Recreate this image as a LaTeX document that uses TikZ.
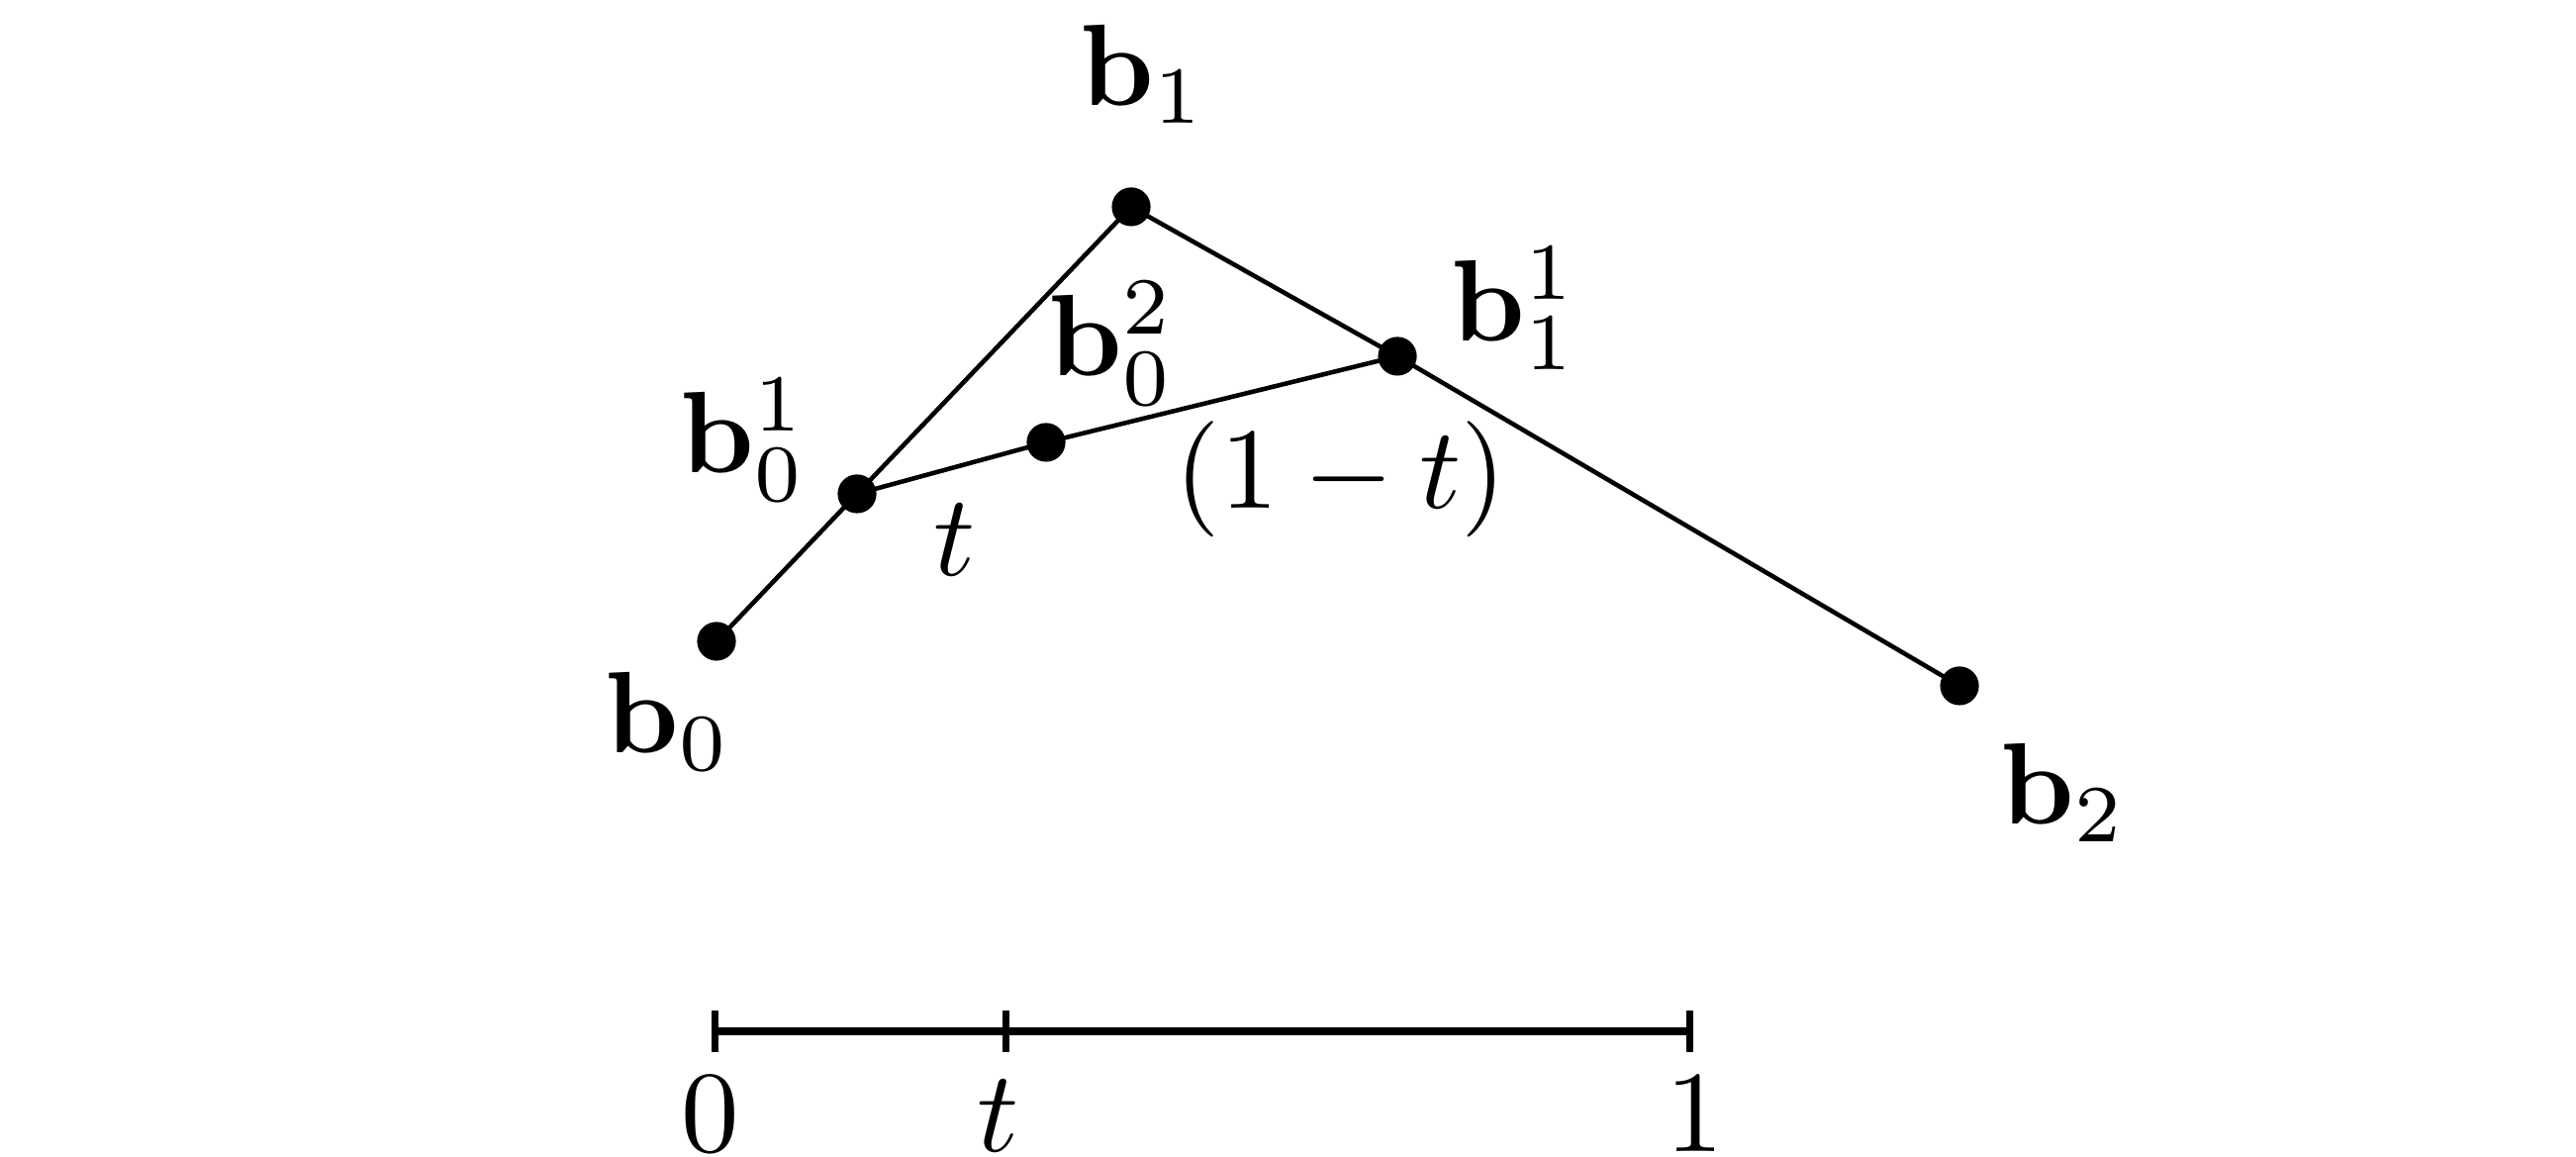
\documentclass[tikz,border=0pt]{standalone}
\usepackage{amsmath}
\begin{document}
\begin{tikzpicture}[x=0.08547pt, y=-0.08547pt,
  dot/.style={circle, fill=black, inner sep=0pt, minimum size=3.35pt},
  lbl/.style={inner sep=0pt, anchor=base west},
  clbl/.style={inner sep=0pt, anchor=base},
  seg/.style={line width=0.39pt},
  scale line/.style={line width=0.7pt},
  tick/.style={line width=0.6pt}]
  \useasboundingbox (0,0) rectangle (2603,1169);
  % control points
  \node[dot] (b0)  at (724,648)  {};
  \node[dot] (b01) at (866,499)  {};
  \node[dot] (b1)  at (1143,209) {};
  \node[dot] (b02) at (1057,447) {};
  \node[dot] (b11) at (1412,360) {};
  \node[dot] (b2)  at (1980,693) {};
  % connectors
  \draw[seg] (b0.center) -- (b01.center);
  \draw[seg] (b01.center) -- (b1.center);
  \draw[seg] (b1.center) -- (b11.center);
  \draw[seg] (b11.center) -- (b2.center);
  \draw[seg] (b01.center) -- (b02.center);
  \draw[seg] (b02.center) -- (b11.center);
  % labels
  \node[lbl] (l0)  at (609,761)  {$\mathbf{b}_0$};
  \node[lbl] (l01) at (685,478)  {$\mathbf{b}_0^1$};
  \node[lbl] (l1)  at (1089,107) {$\mathbf{b}_1$};
  \node[lbl] (l02) at (1057,380) {$\mathbf{b}_0^2$};
  \node[lbl] (l11) at (1464,345) {$\mathbf{b}_1^1$};
  \node[lbl] (l2)  at (2019,833) {$\mathbf{b}_2$};
  \node[clbl] (lt)  at (965,582)  {$t$};
  \node[clbl] (l1t) at (1355,514) {$(1-t)$};
  % parameter scale
  \coordinate (s0) at (722,1042);
  \coordinate (st) at (1016,1042);
  \coordinate (s1) at (1707,1042);
  \draw[scale line] (s0) -- (s1);
  \draw[tick] ([yshift=1.8pt]s0) -- ([yshift=-1.8pt]s0);
  \draw[tick] ([yshift=1.8pt]st) -- ([yshift=-1.8pt]st);
  \draw[tick] ([yshift=1.8pt]s1) -- ([yshift=-1.8pt]s1);
  \node[clbl] (n0) at (718,1164)  {$0$};
  \node[clbl] (nt) at (1009,1164) {$t$};
  \node[clbl] (n1) at (1713,1164) {$1$};
\end{tikzpicture}
\end{document}
